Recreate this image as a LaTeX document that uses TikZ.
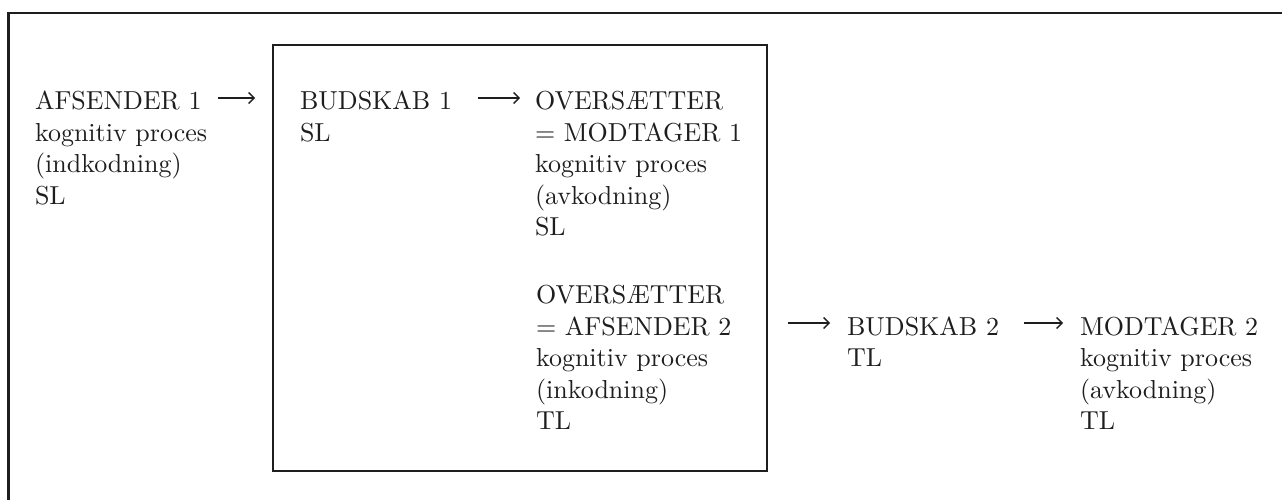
\documentclass[tikz,border=0pt]{standalone}
\usepackage{fontspec}
\setmainfont{lmroman10-regular.otf}
\usetikzlibrary{arrows.meta,calc}
\newcommand\colstack[1]{\vtop{\halign{##\hfil\cr #1\crcr}}}
\definecolor{ink}{HTML}{1E1E1E}
\tikzset{
  txt/.style={anchor=base west, inner sep=0pt, outer sep=0pt, text=ink,
              font=\fontsize{26}{31.5}\selectfont},
  arr/.style={draw=ink, line width=1.4pt, -{Straight Barb[length=5.5pt,width=11pt]}},
  frame/.style={draw=ink, line width=2.2pt},
}
\begin{document}
\begin{tikzpicture}[x=1pt,y=-1pt]
\useasboundingbox (0,0) rectangle (1282,500);
% outer frame (top and left edges visible)
\draw[frame] (8.5,500) -- (8.5,13) -- (1282,13);
% inner box
\node[frame, minimum width=494pt, minimum height=426pt, inner sep=0pt, outer sep=0pt] (box) at (520,258) {};
% text columns
\node[txt] (a1) at (35,110) {\colstack{AFSENDER 1\cr kognitiv proces\cr (indkodning)\cr SL}};
\node[txt] (b1) at (300,110) {\colstack{BUDSKAB 1\cr SL}};
\node[txt] (c1) at (535,110) {\colstack{OVERSÆTTER\cr = MODTAGER 1\cr kognitiv proces\cr (avkodning)\cr SL}};
\node[txt] (c2) at (536,303.5) {\colstack{OVERSÆTTER\cr = AFSENDER 2\cr kognitiv proces\cr (inkodning)\cr TL}};
\node[txt] (d1) at (847,335) {\colstack{BUDSKAB 2\cr TL}};
\node[txt] (e1) at (1080,335) {\colstack{MODTAGER 2\cr kognitiv proces\cr (avkodning)\cr TL}};
% connectors
\draw[arr] ($(a1.base east)+(11pt,12pt)$) -- ($(box.west |- a1.base)+(-18pt,12pt)$);
\draw[arr] ($(b1.base east)+(26pt,12pt)$) -- ($(c1.base west)+(-15pt,12pt)$);
\draw[arr] ($(box.east |- d1.base)+(21pt,12pt)$) -- ($(d1.base west)+(-17pt,12pt)$);
\draw[arr] ($(d1.base east)+(25pt,12pt)$) -- ($(e1.base west)+(-17pt,12pt)$);
\end{tikzpicture}
\end{document}
